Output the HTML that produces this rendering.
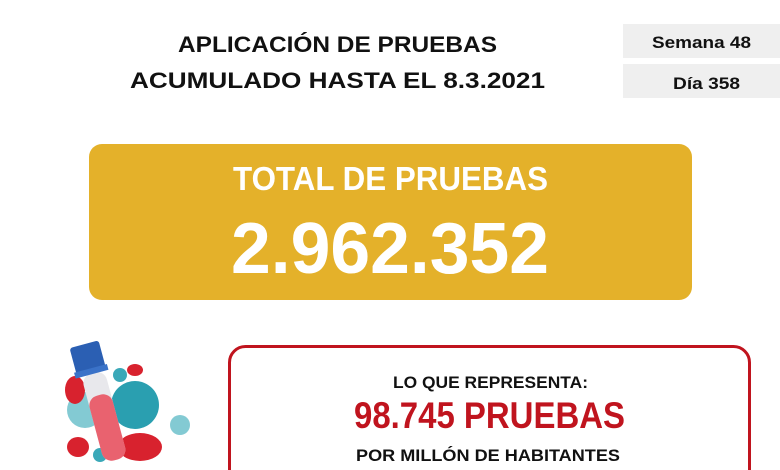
<!DOCTYPE html>
<html><head><meta charset="utf-8"><style>
html,body{margin:0;padding:0;background:#fff;width:780px;height:470px;overflow:hidden}
</style></head><body>
<svg width="780" height="470" viewBox="0 0 780 470" xmlns="http://www.w3.org/2000/svg" font-family="Liberation Sans, sans-serif" font-weight="bold">
<text x="178" y="52" font-size="22" textLength="319" lengthAdjust="spacingAndGlyphs" fill="#111">APLICACIÓN DE PRUEBAS</text>
<text x="130" y="88" font-size="22" textLength="415" lengthAdjust="spacingAndGlyphs" fill="#111">ACUMULADO HASTA EL 8.3.2021</text>
<rect x="623" y="24" width="157" height="34" fill="#efefef"/>
<rect x="623" y="64" width="157" height="34" fill="#efefef"/>
<text x="652" y="48" font-size="17" textLength="99" lengthAdjust="spacingAndGlyphs" fill="#111">Semana 48</text>
<text x="673" y="89" font-size="17" textLength="67" lengthAdjust="spacingAndGlyphs" fill="#111">Día 358</text>
<rect x="89" y="144" width="603" height="156" rx="13" fill="#e4b12a"/>
<text x="233" y="190" font-size="33" textLength="315" lengthAdjust="spacingAndGlyphs" fill="#fff">TOTAL DE PRUEBAS</text>
<text x="231" y="273" font-size="72" textLength="318" lengthAdjust="spacingAndGlyphs" fill="#fff">2.962.352</text>
<rect x="229.5" y="346.5" width="520" height="140" rx="16" fill="#fff" stroke="#c0141e" stroke-width="3"/>
<text x="393" y="388" font-size="17" textLength="195" lengthAdjust="spacingAndGlyphs" fill="#111">LO QUE REPRESENTA:</text>
<text x="354" y="428" font-size="37" textLength="271" lengthAdjust="spacingAndGlyphs" fill="#c0141e">98.745 PRUEBAS</text>
<text x="356" y="461" font-size="17" textLength="264" lengthAdjust="spacingAndGlyphs" fill="#111">POR MILLÓN DE HABITANTES</text>
<!-- illustration -->
<g>
<circle cx="85" cy="410" r="18" fill="#4fb3c0" opacity="0.7"/>
<circle cx="135" cy="405" r="24" fill="#2a9fb0"/>
<circle cx="180" cy="425" r="10" fill="#4fb3c0" opacity="0.7"/>
<circle cx="120" cy="375" r="7" fill="#3aa8b8"/>
<ellipse cx="75" cy="390" rx="10" ry="14" fill="#d8222e"/>
<ellipse cx="135" cy="370" rx="8" ry="6" fill="#d8222e"/>
<ellipse cx="140" cy="447" rx="22" ry="14" fill="#d8222e"/>
<ellipse cx="78" cy="447" rx="11" ry="10" fill="#d8222e"/>
<circle cx="100" cy="455" r="7" fill="#3aa8b8"/>
<g transform="rotate(-15 100 400)">
<rect x="88" y="372" width="24" height="90" rx="10" fill="#e8e8ec"/>
<rect x="88" y="395" width="24" height="67" rx="10" fill="#e84050" opacity="0.8"/>
<rect x="84" y="342" width="30" height="28" rx="3" fill="#2b5fb3"/>
<rect x="82" y="367" width="34" height="6" fill="#3a72c8"/>
</g>
</g>
</svg>
</body></html>
